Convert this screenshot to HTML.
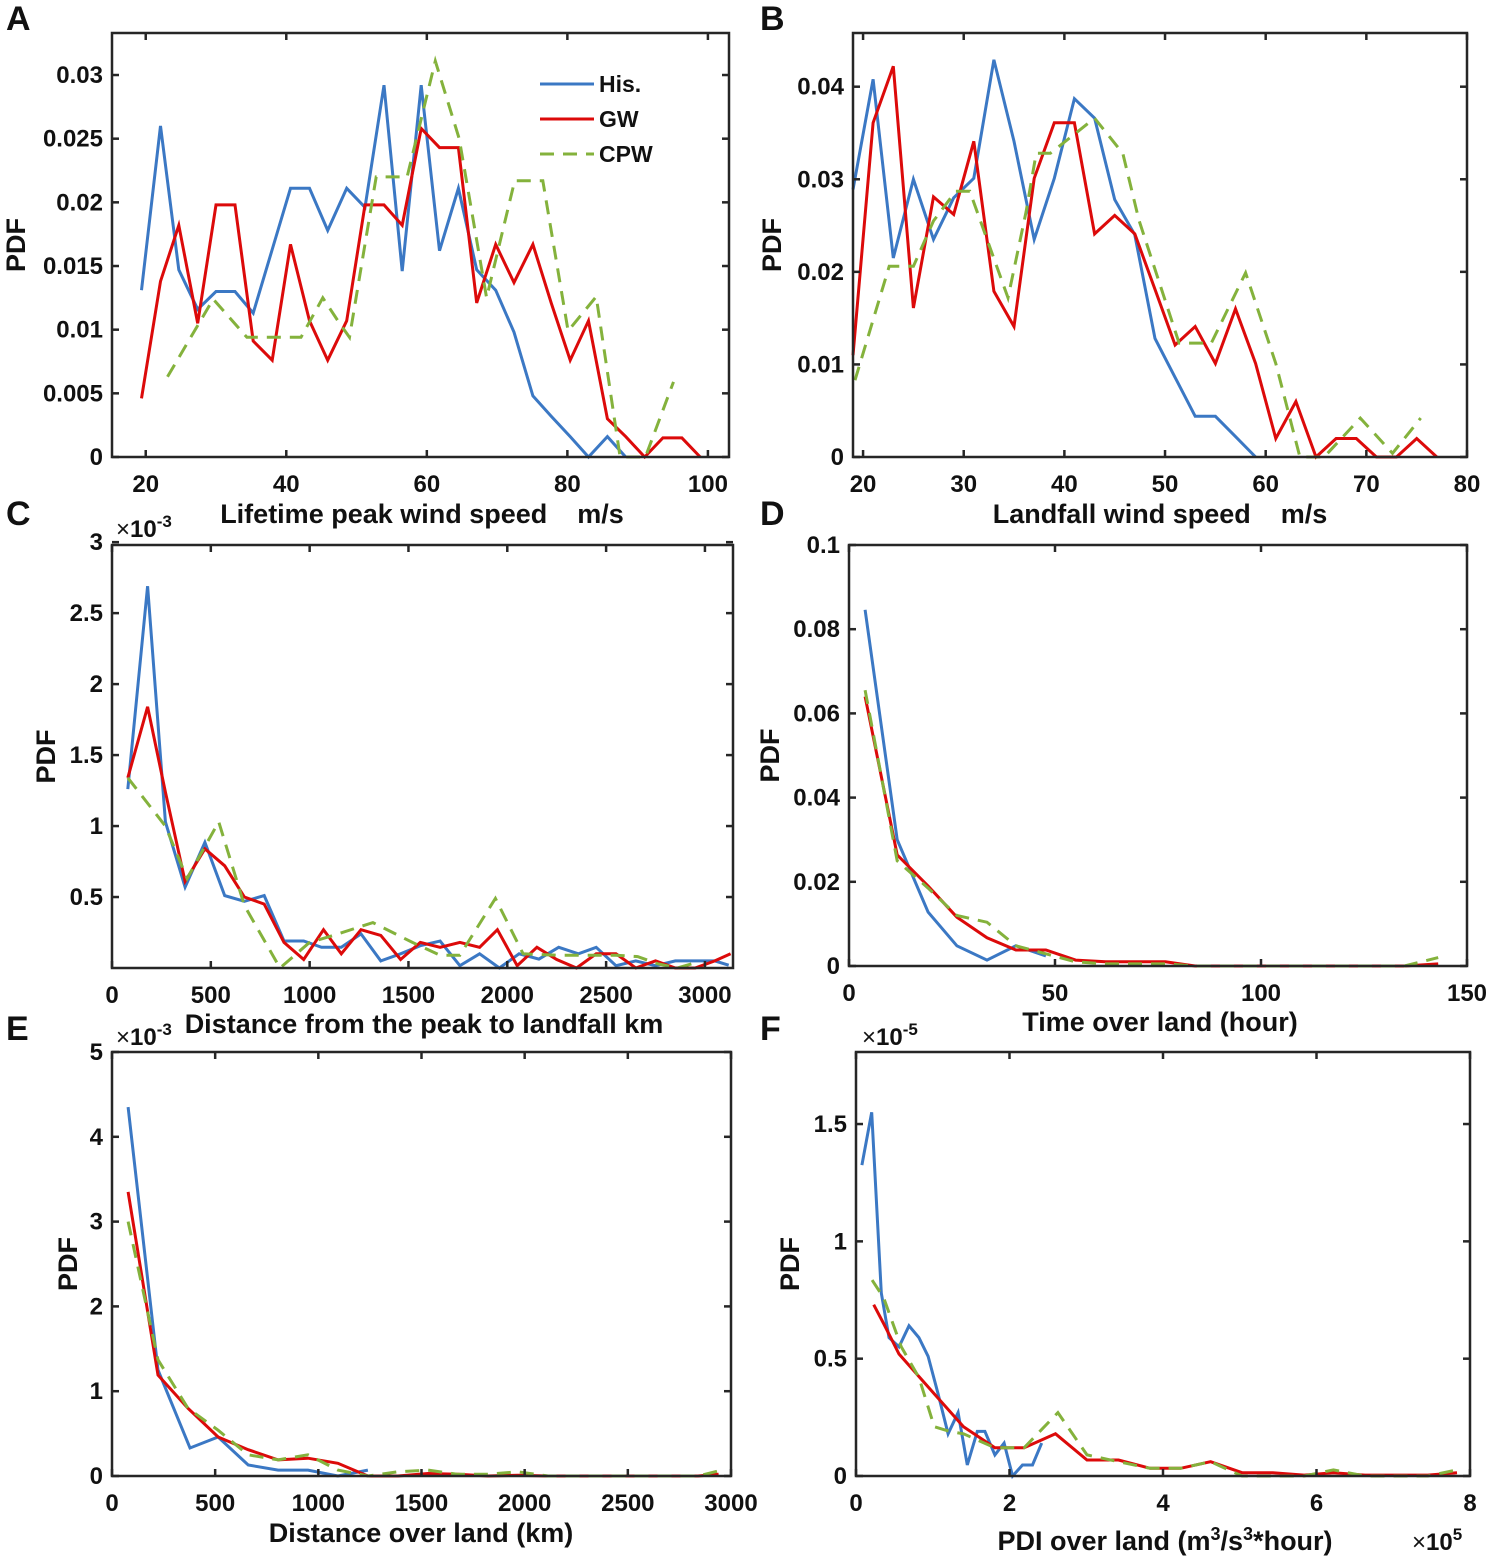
<!DOCTYPE html>
<html><head><meta charset="utf-8">
<style>
html,body{margin:0;padding:0;background:#fff;}
svg{display:block;}
text{font-family:"Liberation Sans Narrow","Liberation Sans",Arial,sans-serif;font-weight:bold;fill:#111;}
</style></head>
<body>
<svg id="fig" width="1499" height="1564" viewBox="0 0 1499 1564"></svg>
<script>
// ---------- Panel A data ----------
const aHisX=[19.4,22.1,24.7,27.4,30.0,32.7,35.3,38.0,40.6,43.3,45.9,48.6,51.2,53.9,56.5,59.2,61.8,64.5,67.1,69.8,72.4,75.1,77.7,80.4,83.0,85.7,88.3];
const aHisY=[0.0131,0.026,0.0147,0.0116,0.013,0.013,0.0113,0.0163,0.0211,0.0211,0.0178,0.0211,0.0196,0.0292,0.0146,0.0292,0.0162,0.0211,0.0147,0.0131,0.0098,0.0048,0.0032,0.0016,0,0.0016,0];
const aGwX=[19.4,22.1,24.7,27.4,30.0,32.7,35.3,38.0,40.6,43.3,45.9,48.6,51.2,53.9,56.5,59.2,61.8,64.5,67.1,69.8,72.4,75.1,77.7,80.4,83.0,85.7,88.3,91.0,93.6,96.3,98.9];
const aGwY=[0.0046,0.0138,0.0182,0.0105,0.0198,0.0198,0.0091,0.0076,0.0167,0.0107,0.0076,0.0107,0.0198,0.0198,0.0182,0.0258,0.0243,0.0243,0.0121,0.0167,0.0137,0.0167,0.0121,0.0076,0.0107,0.003,0.0016,0,0.0015,0.0015,0];
const aCpwX=[23.1,29.6,34.4,42.1,45.2,47.7,49.0,52.8,57.2,61.2,64.6,68.5,72.5,76.5,80.1,84.1,87.5,91.1,95.1];
const aCpwY=[0.0063,0.0124,0.0094,0.0094,0.0125,0.0104,0.0094,0.022,0.022,0.0311,0.025,0.0125,0.0217,0.0217,0.0099,0.0126,0,0,0.0059];
const aXTicks=[20,40,60,80,100];
const aYTicks=[0,0.005,0.01,0.015,0.02,0.025,0.03];
const aYLabels=["0","0.005","0.01","0.015","0.02","0.025","0.03"];
// ---------- Panel B data ----------
const bHisX=[19,21,23,25,27,29,31,33,35,37,39,41,43,45,47,49,51,53,55,57,59];
const bHisY=[0.0289,0.0408,0.0215,0.030,0.0235,0.028,0.0301,0.0429,0.0341,0.0235,0.0301,0.0387,0.0366,0.0278,0.024,0.0128,0.0086,0.0044,0.0044,0.0022,0];
const bGwX=[19,21,23,25,27,29,31,33,35,37,39,41,43,45,47,49,51,53,55,57,59,61,63,65,67,69,71,73,75,77];
const bGwY=[0.011,0.0361,0.0422,0.0161,0.0281,0.0262,0.0341,0.0179,0.0141,0.0301,0.0361,0.0361,0.0241,0.0261,0.0241,0.0181,0.0121,0.0141,0.0101,0.016,0.0101,0.002,0.006,0,0.002,0.002,0,0,0.002,0];
const bCpwX=[19.2,22.6,25,27,29.2,30.6,34.4,36.2,37.2,38.6,43,45.8,47.4,51.4,54.6,58,61,63.4,65.8,69.4,72.6,75.4];
const bCpwY=[0.0083,0.0206,0.0206,0.0255,0.0287,0.0287,0.0172,0.0265,0.0328,0.0328,0.0366,0.0328,0.0256,0.0123,0.0123,0.0199,0.0101,0,0,0.0042,0.0004,0.0042];
const bXTicks=[20,30,40,50,60,70,80];
const bYTicks=[0,0.01,0.02,0.03,0.04];
const bYLabels=["0","0.01","0.02","0.03","0.04"];
// ---------- Panel C data (x10^-3) ----------
const cHisX=[80,180,270,370,470,570,670,770,870,970,1060,1160,1260,1360,1460,1560,1660,1760,1860,1960,2060,2160,2260,2360,2450,2550,2650,2750,2850,2950,3050,3120];
const cHisY=[1.26,2.69,1.03,0.57,0.885,0.51,0.47,0.51,0.19,0.19,0.146,0.146,0.24,0.05,0.10,0.157,0.19,0.016,0.10,0,0.10,0.063,0.146,0.10,0.146,0.016,0.05,0.016,0.05,0.05,0.05,0.02];
const cGwX=[80,180,270,370,470,570,670,770,870,970,1070,1160,1260,1360,1460,1560,1660,1760,1860,1950,2050,2150,2250,2350,2450,2550,2650,2750,2850,2950,3050,3130];
const cGwY=[1.34,1.84,1.24,0.61,0.84,0.72,0.50,0.45,0.18,0.06,0.27,0.10,0.27,0.23,0.06,0.18,0.146,0.18,0.146,0.27,0.016,0.146,0.06,0,0.10,0.10,0,0.05,0,0,0.05,0.10];
const cCpwX=[80,270,380,540,670,850,1000,1120,1320,1520,1660,1760,1940,2080,2250,2450,2550,2660,2760,2860,2960];
const cCpwY=[1.34,1.00,0.63,1.03,0.44,0,0.18,0.23,0.32,0.18,0.09,0.09,0.49,0.10,0.09,0.09,0.09,0.08,0.03,0,0.04];
const cXTicks=[0,500,1000,1500,2000,2500,3000];
const cYTicks=[0.5,1,1.5,2,2.5,3];
const cYLabels=["0.5","1","1.5","2","2.5","3"];
// ---------- Panel D data ----------
const dHisX=[3.9,11.7,19.2,26.2,33.5,40.5,47.8];
const dHisY=[0.0846,0.030,0.0128,0.0048,0.0014,0.0048,0.0024];
const dGwX=[3.9,11.7,19.2,26.2,33.5,40.5,47.8,55,62.3,69.5,76.8,84,91.3,98.5,105.8,113,120.3,127.5,134.8,143];
const dGwY=[0.064,0.0264,0.019,0.0116,0.0067,0.0038,0.0038,0.0014,0.001,0.001,0.001,0,0,0,0,0,0,0,0,0.0005];
const dCpwX=[3.9,11.7,19.2,26.2,33.5,40.5,47.8,55,62.3,69.5,76.8,84,91.3,98.5,105.8,113,120.3,127.5,134.8,143];
const dCpwY=[0.0655,0.025,0.0185,0.012,0.0104,0.0048,0.0029,0.001,0.0005,0.0005,0.0005,0,0,0,0,0,0,0,0,0.002];
const dXTicks=[0,50,100,150];
const dYTicks=[0,0.02,0.04,0.06,0.08,0.1];
const dYLabels=["0","0.02","0.04","0.06","0.08","0.1"];
// ---------- Panel E data (x10^-3) ----------
const eHisX=[78,223,378,514,660,805,950,1095,1240];
const eHisY=[4.35,1.25,0.33,0.46,0.13,0.07,0.07,0,0.07];
const eGwX=[78,223,368,514,660,805,950,1095,1240,1386,1531,1677,1822,1967,2113,2258,2403,2549,2694,2840,2940];
const eGwY=[3.35,1.19,0.80,0.46,0.31,0.19,0.21,0.15,0,0,0.03,0.02,0,0.01,0,0,0,0,0,0,0.02];
const eCpwX=[78,223,368,514,660,805,950,1095,1240,1386,1531,1677,1822,1967,2113,2258,2403,2549,2694,2840,2940];
const eCpwY=[3.0,1.37,0.80,0.54,0.25,0.19,0.25,0.07,0,0.05,0.07,0.02,0.02,0.05,0,0,0,0,0,0,0.06];
const eXTicks=[0,500,1000,1500,2000,2500,3000];
const eYTicks=[0,1,2,3,4,5];
const eYLabels=["0","1","2","3","4","5"];
// ---------- Panel F data (x10^-5, x in 10^5) ----------
const fHisX=[0.077,0.204,0.33,0.43,0.56,0.69,0.82,0.94,1.07,1.2,1.33,1.45,1.58,1.68,1.81,1.93,2.04,2.17,2.30,2.42];
const fHisY=[1.325,1.55,0.78,0.59,0.55,0.64,0.59,0.51,0.35,0.18,0.27,0.047,0.19,0.19,0.09,0.14,0,0.047,0.047,0.14];
const fGwX=[0.23,0.36,0.56,1.02,1.40,1.81,2.19,2.60,3.01,3.42,3.83,4.23,4.62,5.03,5.43,5.84,6.22,6.63,7.04,7.45,7.83];
const fGwY=[0.73,0.65,0.52,0.35,0.21,0.12,0.12,0.18,0.068,0.068,0.033,0.033,0.061,0.014,0.014,0.004,0.014,0.004,0.004,0.004,0.014];
const fCpwX=[0.21,0.36,0.59,0.82,1.02,1.22,1.40,1.81,2.19,2.63,3.01,3.42,3.83,4.23,4.62,5.03,5.43,5.84,6.22,6.63,7.04,7.45,7.83];
const fCpwY=[0.835,0.76,0.55,0.42,0.21,0.19,0.18,0.12,0.12,0.27,0.09,0.061,0.033,0.033,0.061,0,0,0,0.026,0,0,0,0.026];
const fXTicks=[0,2,4,6,8];
const fYTicks=[0,0.5,1,1.5];
const fYLabels=["0","0.5","1","1.5"];

const NS="http://www.w3.org/2000/svg";
const svg=document.getElementById('fig');
function mk(tag,attrs,parent){const e=document.createElementNS(NS,tag);for(const k in attrs)e.setAttribute(k,attrs[k]);(parent||svg).appendChild(e);return e;}
const BLUE="#3b78c4",RED="#dc0a0a",GREEN="#84b23c";

function panel(p){
  const g=mk('g',{});
  
  
  const sx=v=>p.L+(v-p.x0)/(p.x1-p.x0)*(p.R-p.L);
  const sy=v=>p.B-(v-p.y0)/(p.y1-p.y0)*(p.B-p.T);
  const series=[[p.his[0],p.his[1],BLUE,null,'his-line'],[p.gw[0],p.gw[1],RED,null,'gw-line'],[p.cpw[0],p.cpw[1],GREEN,'14 9','cpw-line']];
  for(const i of [0,1,2]){
    const s=series[i];
    const pts=s[0].map((x,j)=>sx(x).toFixed(1)+','+sy(s[1][j]).toFixed(1)).join(' ');
    const a={points:pts,fill:'none',stroke:s[2],'stroke-width':3,'stroke-linejoin':'miter'};
    if(s[3])a['stroke-dasharray']=s[3];
    const pl=mk('polyline',a,g);
    
    
  }
  const box=mk('rect',{x:p.L,y:p.T,width:p.R-p.L,height:p.B-p.T,fill:'none',stroke:'#262626','stroke-width':2.5},g);
  
  
  p.xt.forEach(v=>{
    const x=sx(v);
    mk('line',{x1:x,x2:x,y1:p.B,y2:p.B-7,stroke:'#262626','stroke-width':2.5},g);
    mk('line',{x1:x,x2:x,y1:p.T,y2:p.T+7,stroke:'#262626','stroke-width':2.5},g);
    const t=mk('text',{x:x,y:p.B+35,'text-anchor':'middle','font-size':24},g);
    t.textContent=String(v);
    
    
  });
  p.yt.forEach((v,i)=>{
    const y=sy(v);
    mk('line',{x1:p.L,x2:p.L+7,y1:y,y2:y,stroke:'#262626','stroke-width':2.5},g);
    mk('line',{x1:p.R,x2:p.R-7,y1:y,y2:y,stroke:'#262626','stroke-width':2.5},g);
    const t=mk('text',{x:p.L-9,y:y+8,'text-anchor':'end','font-size':24},g);
    t.textContent=p.yl[i];
    
    
  });
  const xl=mk('text',{x:p.xlx,y:p.xly,'text-anchor':'middle','font-size':27,style:'white-space:pre'},g);
  xl.innerHTML=p.xlabel;
  
  
  const yl=mk('text',{x:0,y:0,'text-anchor':'middle','font-size':27,transform:`translate(${p.ylx},${(p.T+p.B)/2}) rotate(-90)`},g);
  yl.textContent='PDF';
  
  
  const pl=mk('text',{x:p.px,y:p.py,'font-size':34,'font-family':'Liberation Sans, sans-serif'},g);
  pl.textContent=p.id;
  
  
  if(p.exp){
    const ex=mk('text',{x:p.exp[0],y:p.exp[1],'font-size':24},g);
    ex.innerHTML='<tspan font-weight="normal">×</tspan>10<tspan dy="-10" font-size="17">'+p.exp[2]+'</tspan>';
    
    
  }
  return g;
}

panel({id:'A',L:112,R:729,T:33,B:457,x0:15.2,x1:103,y0:0,y1:0.0333,his:[aHisX,aHisY],gw:[aGwX,aGwY],cpw:[aCpwX,aCpwY],xt:aXTicks,yt:aYTicks,yl:aYLabels,xlabel:'Lifetime peak wind speed    m/s',xlx:422,xly:523,ylx:25,px:6,py:30});
panel({id:'B',L:853,R:1467,T:33,B:457,x0:19,x1:80,y0:0,y1:0.0458,his:[bHisX,bHisY],gw:[bGwX,bGwY],cpw:[bCpwX,bCpwY],xt:bXTicks,yt:bYTicks,yl:bYLabels,xlabel:'Landfall wind speed    m/s',xlx:1160,xly:523,ylx:781,px:760,py:30});
panel({id:'C',L:112,R:733,T:545,B:968,x0:0,x1:3142,y0:0,y1:2.98,his:[cHisX,cHisY],gw:[cGwX,cGwY],cpw:[cCpwX,cCpwY],xt:cXTicks,yt:cYTicks,yl:cYLabels,xlabel:'Distance from the peak to landfall km',xlx:424,xly:1033,ylx:55,px:6,py:525,exp:[116,537,'-3']});
panel({id:'D',L:849,R:1467,T:545,B:966,x0:0,x1:150,y0:0,y1:0.1,his:[dHisX,dHisY],gw:[dGwX,dGwY],cpw:[dCpwX,dCpwY],xt:dXTicks,yt:dYTicks,yl:dYLabels,xlabel:'Time over land (hour)',xlx:1160,xly:1031,ylx:779,px:760,py:525});
panel({id:'E',L:112,R:731,T:1052,B:1476,x0:0,x1:3000,y0:0,y1:5,his:[eHisX,eHisY],gw:[eGwX,eGwY],cpw:[eCpwX,eCpwY],xt:eXTicks,yt:eYTicks,yl:eYLabels,xlabel:'Distance over land (km)',xlx:421,xly:1542,ylx:77,px:6,py:1040,exp:[116,1045,'-3']});
panel({id:'F',L:856,R:1470,T:1052,B:1476,x0:0,x1:8,y0:0,y1:1.807,his:[fHisX,fHisY],gw:[fGwX,fGwY],cpw:[fCpwX,fCpwY],xt:fXTicks,yt:fYTicks,yl:fYLabels,xlabel:'PDI over land (m<tspan dy="-10" font-size="18">3</tspan><tspan dy="10">/s</tspan><tspan dy="-10" font-size="18">3</tspan><tspan dy="10">*hour)</tspan>',xlx:1165,xly:1550,ylx:799,px:760,py:1040,exp:[862,1045,'-5']});

const fx=mk('text',{x:1412,y:1550,'font-size':24});
fx.innerHTML='<tspan font-weight="normal">×</tspan>10<tspan dy="-10" font-size="17">5</tspan>';



const leg=mk('g',{});


[['His.',BLUE,null,84],['GW',RED,null,119],['CPW',GREEN,'14 9',154]].forEach(e=>{
  const a={x1:540,x2:594,y1:e[3],y2:e[3],stroke:e[1],'stroke-width':3};
  if(e[2])a['stroke-dasharray']=e[2];
  const l=mk('line',a,leg);
  
  
  const t=mk('text',{x:599,y:e[3]+8,'font-size':23},leg);
  t.textContent=e[0];
  
  
});
</script>
</body></html>
